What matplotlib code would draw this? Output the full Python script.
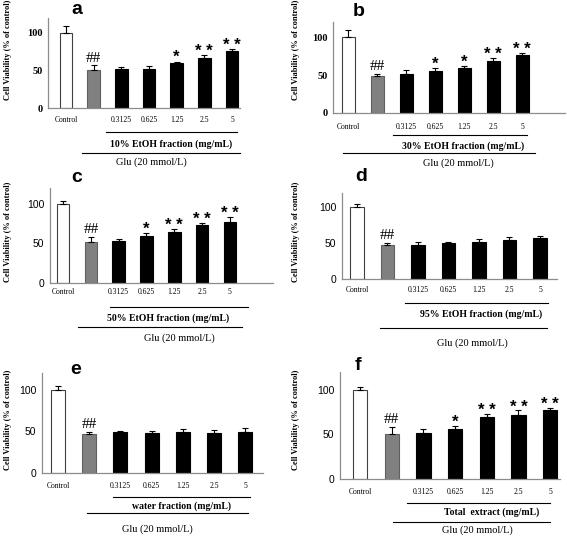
import matplotlib
matplotlib.use("Agg")
import matplotlib.pyplot as plt
import matplotlib.transforms as mtransforms
import numpy as np

W, H = 567, 536

categories = ["Control", "", "0.3125", "0.625", "1.25", "2.5", "5"]

# ==== data ====
mean_a = [100, 51, 52, 52, 60, 67, 76]
err_a = [10, 6, 3, 4, 2, 4, 3]
sig_a = ["", "##", "", "", "*", "**", "**"]

mean_b = [100, 49, 51, 56, 59, 69, 77]
err_b = [10, 3, 6, 3, 3, 3, 2]
sig_b = ["", "##", "", "*", "*", "**", "**"]

mean_c = [100, 52, 53, 60, 65, 73, 77]
err_c = [3, 6, 3, 3, 3, 3, 6]
sig_c = ["", "##", "", "*", "**", "**", "**"]

mean_d = [100, 48, 48, 50, 52, 55, 57]
err_d = [5, 2, 3, 2, 4, 3, 3]
sig_d = ["", "##", "", "", "", "", ""]

mean_e = [100, 47, 49, 48, 49, 48, 49]
err_e = [5, 2, 2, 3, 4, 4, 5]
sig_e = ["", "##", "", "", "", "", ""]

mean_f = [100, 51, 52, 56, 69, 72, 77]
err_f = [3, 7, 4, 4, 4, 5, 3]
sig_f = ["", "##", "", "*", "**", "**", "**"]

fractions = ["10% EtOH fraction (mg/mL)", "30% EtOH fraction (mg/mL)",
             "50% EtOH fraction (mg/mL)", "95% EtOH fraction (mg/mL)",
             "water fraction (mg/mL)", "Total  extract (mg/mL)"]
letters = ["a", "b", "c", "d", "e", "f"]
glu_label = "Glu (20 mmol/L)"

# ==== layout in pixels ====
# rect: left, right, top(y=120), bottom(y=0); xlim; category label y;
# upper line (x0, x1, y), fraction text (x, y), lower line (x0, x1, y), glu text (x, y)
# letter (x, y), ylabel (x, y)
panels = [
    dict(rect=(48, 240, 18, 108), xlim=(-0.65, 6.29), cat_y=120,
         l1=(1.45, 6.18, 132), t1=(3.8, 144), l2=(0.58, 6.29, 153), t2=(3.1, 162),
         letter=(77, 10), ylab=(8, 50), serif_ticks=True),
    dict(rect=(333, 565, 22, 113), xlim=(-0.52, 7.48), cat_y=127,
         l1=(1.55, 6.17, 135), t1=(3.97, 146), l2=(-0.17, 6.45, 153), t2=(3.8, 163),
         letter=(359, 11), ylab=(296, 50), serif_ticks=True),
    dict(rect=(50, 273, 188, 283), xlim=(-0.47, 7.55), cat_y=292,
         l1=(1.69, 6.65, 307), t1=(3.78, 318), l2=(0.54, 6.44, 327), t2=(4.17, 338),
         letter=(77, 177), ylab=(8, 232), serif_ticks=False),
    dict(rect=(342, 557, 193, 279), xlim=(-0.49, 6.56), cat_y=290,
         l1=(1.57, 6.26, 303), t1=(4.07, 314), l2=(0.75, 6.23, 328), t2=(3.77, 343),
         letter=(361, 176), ylab=(296, 232), serif_ticks=False),
    dict(rect=(42, 263, 373, 473), xlim=(-0.51, 6.57), cat_y=486,
         l1=(1.76, 6.15, 497), t1=(3.97, 506), l2=(0.93, 6.09, 513), t2=(3.2, 529),
         letter=(76, 369), ylab=(8, 420), serif_ticks=False),
    dict(rect=(340, 560, 372, 479), xlim=(-0.63, 6.31), cat_y=492,
         l1=(1.48, 5.99, 503), t1=(4.16, 512), l2=(1.04, 6.0, 522), t2=(3.7, 530),
         letter=(358, 365), ylab=(296, 420), serif_ticks=False),
]

means = [mean_a, mean_b, mean_c, mean_d, mean_e, mean_f]
errs = [err_a, err_b, err_c, err_d, err_e, err_f]
sigs = [sig_a, sig_b, sig_c, sig_d, sig_e, sig_f]

serif = "Liberation Serif"
sans = "Liberation Sans"
bar_colors = ["white", "#808080"] + ["black"] * 5
edge_colors = ["#404040", "#606060"] + ["black"] * 5

fig = plt.figure(figsize=(W / 100, H / 100), dpi=100)


def fy(ypx):
    return 1 - ypx / H


for i, p in enumerate(panels):
    l, r, t, b = p["rect"]
    ax = fig.add_axes([l / W, 1 - b / H, (r - l) / W, (b - t) / H])
    x = np.arange(len(categories))
    ax.bar(x, means[i], width=0.45, color=bar_colors, edgecolor=edge_colors, linewidth=0.8)
    ax.errorbar(x, means[i], yerr=[np.zeros(len(x)), errs[i]], fmt="none",
                ecolor="black", elinewidth=0.8, capsize=2.2, capthick=0.8)
    for xi, m, e, s in zip(x, means[i], errs[i], sigs[i]):
        if s == "##":
            ax.text(xi, m + e + 1, s, ha="center", va="bottom", fontsize=11,
                    family=serif, color="black")
        elif s:
            ax.text(xi, m + e - 5, " ".join(s), ha="center", va="bottom", fontsize=12,
                    family=sans, fontweight="bold", color="black")
    ax.set_xlim(*p["xlim"])
    ax.set_ylim(0, 120)
    ax.set_yticks([0, 50, 100])
    ax.set_xticks([])
    for sp in ["top", "right"]:
        ax.spines[sp].set_visible(False)
    for sp in ["left", "bottom"]:
        ax.spines[sp].set_color("#8c8c8c")
        ax.spines[sp].set_linewidth(0.9)
    ax.tick_params(axis="y", length=0, pad=4)
    for lab in ax.get_yticklabels():
        if p["serif_ticks"]:
            lab.set_fontfamily(serif)
            lab.set_fontweight("bold")
            lab.set_fontsize(7.5)
        else:
            lab.set_fontfamily(sans)
            lab.set_fontsize(7.5)

    tr = mtransforms.blended_transform_factory(ax.transData, fig.transFigure)
    for xi, c in zip(x, categories):
        ax.text(xi, fy(p["cat_y"]), c, transform=tr, ha="center", va="center",
                fontsize=5.5, family=serif)
    x0, x1, yl = p["l1"]
    ax.plot([x0, x1], [fy(yl)] * 2, transform=tr, color="black", lw=0.8, clip_on=False)
    ax.text(p["t1"][0], fy(p["t1"][1]), fractions[i], transform=tr, ha="center",
            va="center", fontsize=7, family=serif, fontweight="bold")
    x0, x1, yl = p["l2"]
    ax.plot([x0, x1], [fy(yl)] * 2, transform=tr, color="black", lw=0.8, clip_on=False)
    ax.text(p["t2"][0], fy(p["t2"][1]), glu_label, transform=tr, ha="center",
            va="center", fontsize=7.5, family=serif)

    fig.text(p["letter"][0] / W, fy(p["letter"][1]), letters[i], ha="center",
             va="center", fontsize=14, family=sans, fontweight="bold")
    fig.text(p["ylab"][0] / W, fy(p["ylab"][1]), "Cell Viability (% of control)",
             rotation=90, ha="center", va="center", fontsize=6, family=serif,
             fontweight="bold")

fig.savefig("out.png", dpi=100)
